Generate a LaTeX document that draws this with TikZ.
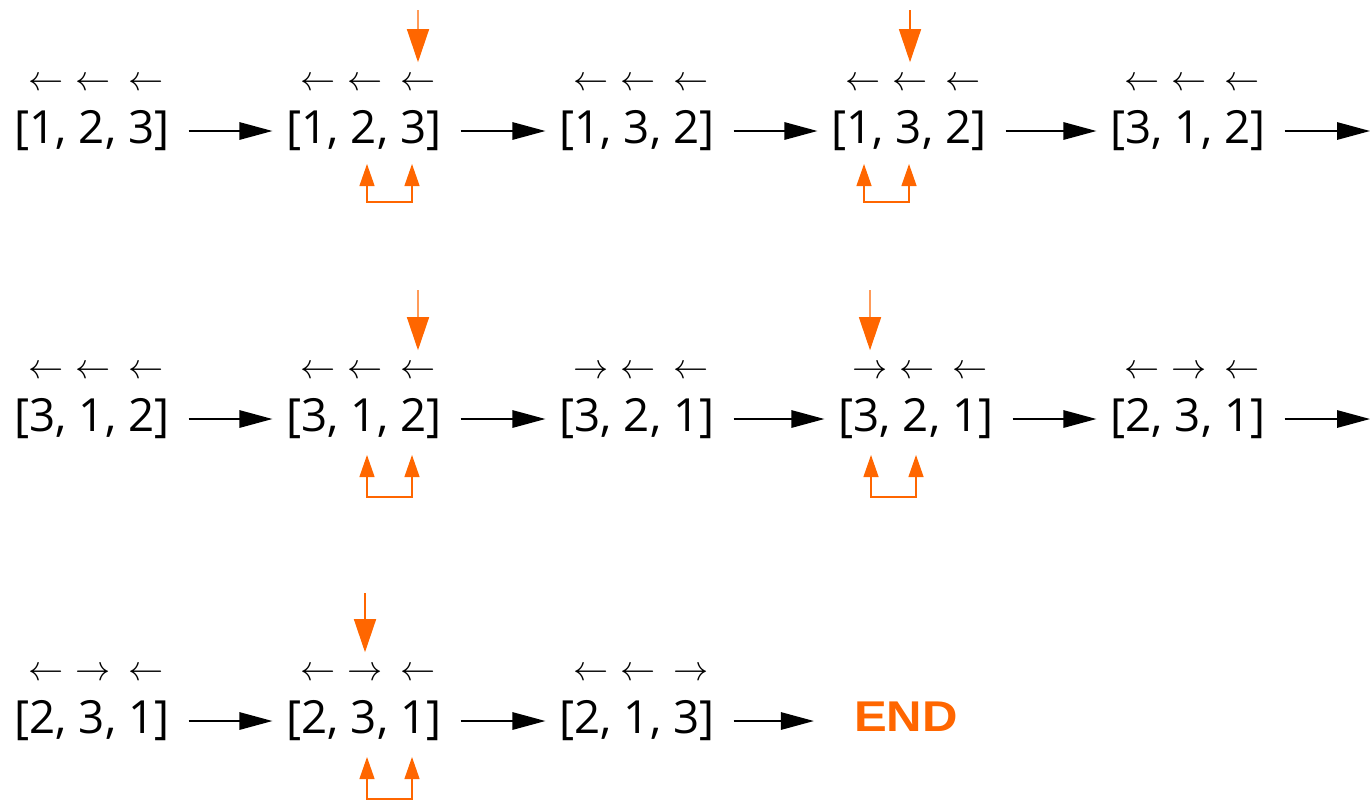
\RequirePackage{fix-cm}
\documentclass[tikz,border=0pt]{standalone}
\usepackage{fontspec}
\setmainfont{Open Sans}
\newfontfamily\endfont{Liberation Sans}
\usepackage{tikz}
\usetikzlibrary{arrows.meta,positioning}
\definecolor{swaporange}{HTML}{FF6600}

\begin{document}
\begin{tikzpicture}[
  x=0.02cm, y=-0.02cm,
  state/.style={inner sep=0pt, font=\fontsize{26}{30}\selectfont},
  dir/.style={inner sep=0pt, font=\fontsize{20}{22}\selectfont},
  flow/.style={-{Triangle[length=0.66cm, width=0.35cm]}, line width=0.8pt,
               shorten <=0.38cm, shorten >=0.28cm},
  pick/.style={-{Triangle[length=0.66cm, width=0.44cm]}, draw=swaporange,
               line width=0.8pt, shorten >=0.3cm},
  swap/.style={{Triangle[length=0.44cm, width=0.3cm]}-{Triangle[length=0.44cm, width=0.3cm]},
               draw=swaporange, line width=0.7pt}
]
\useasboundingbox (0,0) rectangle (1371,802);

% row 1
\node[state] (s1) at (92,131) {[1, 2, 3]};
\node[state] (s2) at (364,131) {[1, 2, 3]};
\node[state] (s3) at (637,131) {[1, 3, 2]};
\node[state] (s4) at (909,131) {[1, 3, 2]};
\node[state] (s5) at (1188,131) {[3, 1, 2]};
\coordinate (r1) at (1384,131);

% row 2
\node[state] (s6) at (92,419) {[3, 1, 2]};
\node[state] (s7) at (364,419) {[3, 1, 2]};
\node[state] (s8) at (637,419) {[3, 2, 1]};
\node[state] (s9) at (916,419) {[3, 2, 1]};
\node[state] (s10) at (1188,419) {[2, 3, 1]};
\coordinate (r2) at (1384,419);

% row 3
\node[state] (s11) at (92,721) {[2, 3, 1]};
\node[state] (s12) at (364,721) {[2, 3, 1]};
\node[state] (s13) at (637,721) {[2, 1, 3]};
\node[inner sep=0pt, text=swaporange] (end) at (906,717)
     {\endfont\bfseries\fontsize{24.5}{28}\selectfont\scalebox{1.14}[1]{END}};

% directions over the entries
\foreach \s/\a/\b/\c in {s1/\leftarrow/\leftarrow/\leftarrow,
    s2/\leftarrow/\leftarrow/\leftarrow, s3/\leftarrow/\leftarrow/\leftarrow,
    s4/\leftarrow/\leftarrow/\leftarrow, s5/\leftarrow/\leftarrow/\leftarrow,
    s6/\leftarrow/\leftarrow/\leftarrow, s7/\leftarrow/\leftarrow/\leftarrow,
    s8/\rightarrow/\leftarrow/\leftarrow, s9/\rightarrow/\leftarrow/\leftarrow,
    s10/\leftarrow/\rightarrow/\leftarrow, s11/\leftarrow/\rightarrow/\leftarrow,
    s12/\leftarrow/\rightarrow/\leftarrow, s13/\leftarrow/\leftarrow/\rightarrow}{
  \node[dir] (\s-1) at ([xshift=-0.92cm, yshift=0.94cm]\s.center) {$\a$};
  \node[dir] (\s-2) at ([xshift=0.02cm, yshift=0.94cm]\s.center) {$\b$};
  \node[dir] (\s-3) at ([xshift=1.08cm, yshift=0.94cm]\s.center) {$\c$};
}

% mobile element
\coordinate (p2) at (418,10);
\coordinate (p4) at (910,10);
\coordinate (p7) at (418,290);
\coordinate (p9) at (870,290);
\coordinate (p12) at (365,593);
\draw[pick] (p2) -- (s2-3);
\draw[pick] (p4) -- (s4-2);
\draw[pick] (p7) -- (s7-3);
\draw[pick] (p9) -- (s9-1);
\draw[pick] (p12) -- (s12-2);

% swapped pair
\coordinate (k2a) at (367,164);
\coordinate (k2b) at (412,164);
\coordinate (k4a) at (864,164);
\coordinate (k4b) at (909,164);
\coordinate (k7a) at (367,455);
\coordinate (k7b) at (412,455);
\coordinate (k9a) at (871,455);
\coordinate (k9b) at (916,455);
\coordinate (k12a) at (367,757);
\coordinate (k12b) at (412,757);
\draw[swap] (k2a) -- ++(0,38) -| (k2b);
\draw[swap] (k4a) -- ++(0,38) -| (k4b);
\draw[swap] (k7a) -- ++(0,42) -| (k7b);
\draw[swap] (k9a) -- ++(0,42) -| (k9b);
\draw[swap] (k12a) -- ++(0,42) -| (k12b);

\draw[flow] (s1) -- (s2);
\draw[flow] (s2) -- (s3);
\draw[flow] (s3) -- (s4);
\draw[flow] (s4) -- (s5);
\draw[flow] (s5) -- (r1);
\draw[flow] (s6) -- (s7);
\draw[flow] (s7) -- (s8);
\draw[flow] (s8) -- (s9);
\draw[flow] (s9) -- (s10);
\draw[flow] (s10) -- (r2);
\draw[flow] (s11) -- (s12);
\draw[flow] (s12) -- (s13);
\draw[flow, shorten >=0.8cm] (s13) -- (s13 -| end.west);

\end{tikzpicture}
\end{document}
